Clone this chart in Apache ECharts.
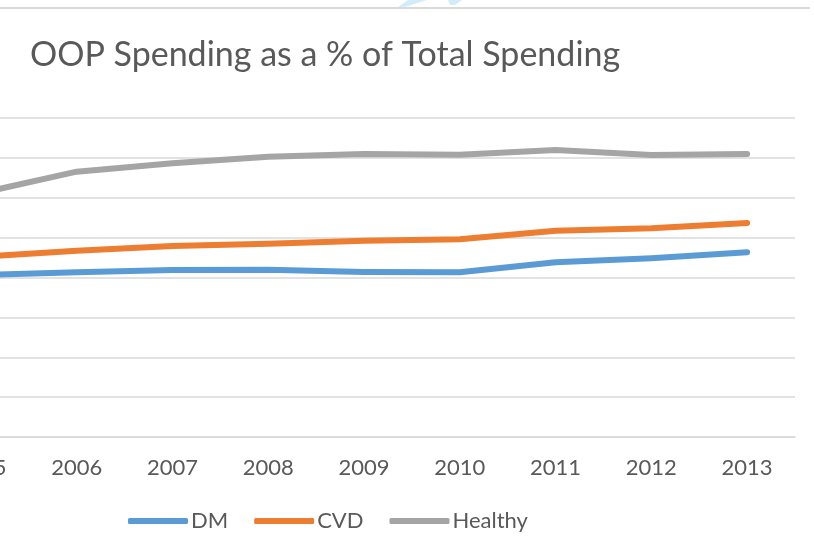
<!DOCTYPE html>
<html>
<head>
<meta charset="utf-8">
<script src="https://cdn.jsdelivr.net/npm/echarts@6/dist/echarts.min.js"></script>
<style>
  html, body { margin: 0; padding: 0; background: #ffffff; overflow: hidden; }
  /* the plot begins with 2005, whose half-band sits just off the left edge */
  #chart { position: absolute; left: -67px; top: 0; width: 881px; height: 557px; }
</style>
</head>
<body>
<div id="chart"></div>
<script>
// Out-of-pocket spending share of total spending, by year and patient group
const years = ['2005', '2006', '2007', '2008', '2009', '2010', '2011', '2012', '2013'];
const dm      = [20.3, 20.65, 20.94, 20.98, 20.69, 20.65, 21.91, 22.41, 23.16];
const cvd     = [22.6, 23.36, 23.95, 24.24, 24.61, 24.79, 25.87, 26.17, 26.83];
const healthy = [30.6, 33.27, 34.32, 35.15, 35.49, 35.40, 35.99, 35.36, 35.49];
const seriesNames = ['DM', 'CVD', 'Healthy'];
const colors = ['#5B9BD5', '#ED7D31', '#A5A5A5'];

const font = 'Lato, "Open Sans", sans-serif';
const textColor = '#595959';
const shift = 67; // horizontal offset of the canvas relative to the page

const chart = echarts.init(document.getElementById('chart'), null, { renderer: 'canvas' });

function lineSeries(name, data, color) {
  return {
    name: name,
    type: 'line',
    data: data,
    symbol: 'none',
    smooth: false,
    lineStyle: { width: 6, color: color, cap: 'round', join: 'round' },
    itemStyle: { color: color },
    emphasis: { disabled: true },
    animation: false
  };
}

chart.setOption({
  animation: false,
  backgroundColor: '#ffffff',
  title: {
    text: 'OOP Spending as a % of Total Spending',
    left: shift + 30,
    top: 38,
    padding: 0,
    textStyle: { fontFamily: font, fontSize: 34, fontWeight: 'normal', color: textColor }
  },
  legend: {
    data: seriesNames,
    left: shift + 128,
    top: 510,
    padding: 0,
    icon: 'roundRect',
    itemWidth: 60,
    itemHeight: 6,
    itemGap: 26,
    textStyle: { fontFamily: font, fontSize: 22, color: textColor, padding: [0, 0, 0, -2] }
  },
  grid: { left: 0, right: 19, top: 118, bottom: 120, containLabel: false },
  xAxis: {
    type: 'category',
    data: years,
    boundaryGap: true,
    axisLine: { show: true, lineStyle: { color: '#D9D9D9', width: 1.5 } },
    axisTick: { show: false },
    axisLabel: { fontFamily: font, fontSize: 22, color: textColor, margin: 20 }
  },
  yAxis: {
    type: 'value',
    min: 0,
    max: 40,
    interval: 5,
    axisLine: { show: false },
    axisTick: { show: false },
    axisLabel: { show: false },
    splitLine: { lineStyle: { color: '#D9D9D9', width: 1.5 } }
  },
  series: [
    lineSeries(seriesNames[0], dm, colors[0]),
    lineSeries(seriesNames[1], cvd, colors[1]),
    lineSeries(seriesNames[2], healthy, colors[2])
  ],
  graphic: [
    {
      // chart frame edge along the top
      type: 'line',
      shape: { x1: shift, y1: 8, x2: shift + 810, y2: 8 },
      style: { stroke: '#D9D9D9', lineWidth: 2 },
      silent: true
    },
    {
      // faint light-blue mark above the frame
      type: 'polygon',
      shape: { points: [[shift + 408, 0], [shift + 427, 0], [shift + 405, 7], [shift + 398, 7]] },
      style: { fill: '#D4ECFA' },
      silent: true
    },
    {
      type: 'polygon',
      shape: { points: [[shift + 448, 0], [shift + 462, 0], [shift + 455, 5], [shift + 450, 5]] },
      style: { fill: '#D4ECFA' },
      silent: true
    }
  ]
});
</script>
</body>
</html>
